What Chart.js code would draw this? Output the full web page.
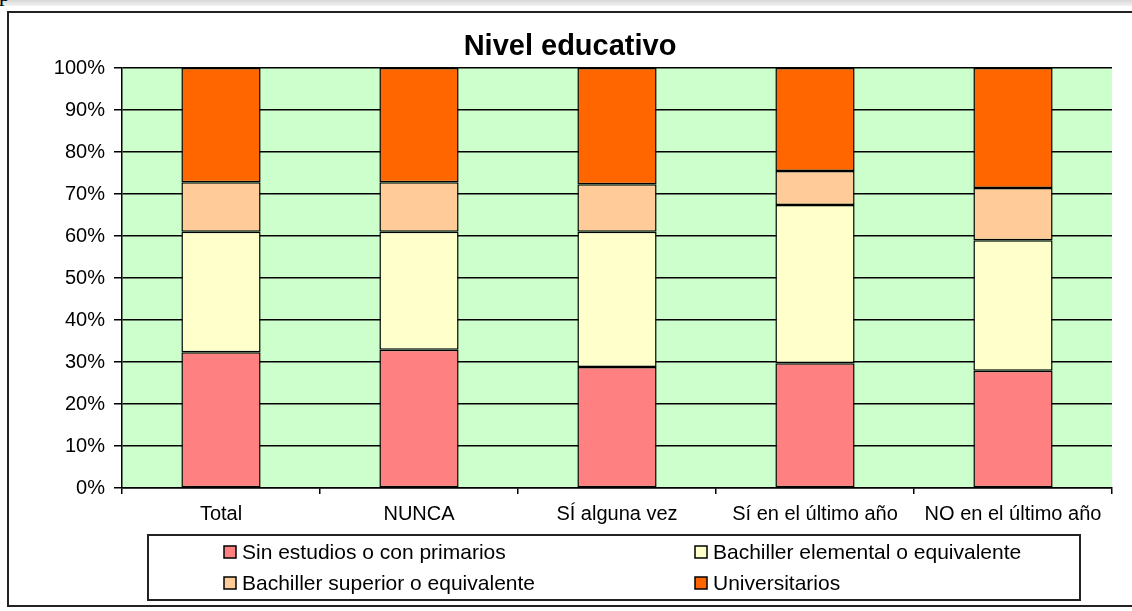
<!DOCTYPE html>
<html>
<head>
<meta charset="utf-8">
<script src="https://cdn.jsdelivr.net/npm/chart.js@4/dist/chart.umd.min.js"></script>
<style>
  body { margin: 0; background: #fff; overflow: hidden; }
  #band { position: absolute; left: 0; top: 0; width: 1132px; height: 6px; background: linear-gradient(#d8d8d8, #f2f2f2); }
  #pchar { position: absolute; left: -1px; top: -19px; font: 22px "Liberation Serif", serif; color: #000; }
  #frame { position: absolute; left: 7px; top: 11px; width: 1140px; height: 592px; border: 2px solid #222; }
  #chart { position: absolute; left: 0; top: 0; }
</style>
</head>
<body>
<div id="band"></div>
<div id="pchar">p</div>
<div id="frame"></div>
<canvas id="chart" width="1132" height="611"></canvas>
<script>
const categories = ['Total', 'NUNCA', 'SÍ alguna vez', 'Sí en el último año', 'NO en el último año'];
const seriesNames = ['Sin estudios o con primarios', 'Bachiller elemental o equivalente', 'Bachiller superior o equivalente', 'Universitarios'];
const sinEstudios = [32.3, 32.9, 28.8, 29.7, 27.9];
const bachElemental = [28.7, 28.1, 32.2, 37.7, 31.1];
const bachSuperior = [11.8, 11.8, 11.3, 8.1, 12.4];
const universitarios = [27.2, 27.2, 27.7, 24.5, 28.6];
const colors = ['#FF8080', '#FFFFCC', '#FFCC99', '#FF6600'];

const FONT = '"Liberation Sans", Arial, sans-serif';

// green plot background
const plotBg = {
  id: 'plotBg',
  beforeDraw(chart) {
    const { ctx, chartArea: a } = chart;
    ctx.save();
    ctx.fillStyle = '#CCFFCC';
    ctx.fillRect(a.left, a.top, a.right - a.left, a.bottom - a.top);
    ctx.restore();
  }
};

// boxed legend in two columns, like the Excel one
const boxLegend = {
  id: 'boxLegend',
  afterDraw(chart) {
    const ctx = chart.ctx;
    ctx.save();
    ctx.strokeStyle = '#222';
    ctx.lineWidth = 2;
    ctx.strokeRect(148, 535, 932, 65);
    const colX = [224, 695];
    const rowY = [552, 583];
    ctx.font = '21px ' + FONT;
    ctx.textBaseline = 'middle';
    chart.data.datasets.forEach((ds, i) => {
      const x = colX[i % 2];
      const y = rowY[Math.floor(i / 2)];
      ctx.fillStyle = ds.backgroundColor;
      ctx.fillRect(x, y - 6, 12, 12);
      ctx.lineWidth = 1.5;
      ctx.strokeStyle = '#000';
      ctx.strokeRect(x, y - 6, 12, 12);
      ctx.fillStyle = '#000';
      ctx.fillText(ds.label, x + 18, y + 1);
    });
    ctx.restore();
  }
};

const datasets = [sinEstudios, bachElemental, bachSuperior, universitarios].map((vals, i) => ({
  label: seriesNames[i],
  data: vals,
  backgroundColor: colors[i],
  borderColor: '#000',
  borderWidth: 1.5,
  borderSkipped: false,
  barPercentage: 0.4,
  categoryPercentage: 1
}));

new Chart(document.getElementById('chart'), {
  type: 'bar',
  data: { labels: categories, datasets: datasets },
  options: {
    responsive: false,
    animation: false,
    // left padding 28 keeps the title centred on the whole picture
    layout: { padding: { left: 28, right: 20, top: 0, bottom: 0 } },
    plugins: {
      legend: { display: false },
      tooltip: { enabled: false },
      title: {
        display: true,
        text: 'Nivel educativo',
        color: '#000',
        font: { family: FONT, size: 29, weight: 'bold', lineHeight: 1.2 },
        padding: { top: 30, bottom: 3.2 }
      }
    },
    scales: {
      x: {
        stacked: true,
        afterFit(scale) { scale.height = 123; },
        grid: { offset: true, drawOnChartArea: false, tickLength: 6, color: '#000', lineWidth: 1.5 },
        border: { color: '#000', width: 1.5 },
        ticks: { color: '#000', padding: 8, font: { family: FONT, size: 20 }, maxRotation: 0 }
      },
      y: {
        stacked: true,
        min: 0,
        max: 100,
        afterFit(scale) { scale.width = 94; },
        grid: { color: '#000', lineWidth: 1.5, tickLength: 8 },
        border: { color: '#000', width: 1.5 },
        ticks: {
          stepSize: 10,
          color: '#000',
          padding: 9,
          font: { family: FONT, size: 20 },
          callback: v => v + '%'
        }
      }
    }
  },
  plugins: [plotBg, boxLegend]
});
</script>
</body>
</html>
